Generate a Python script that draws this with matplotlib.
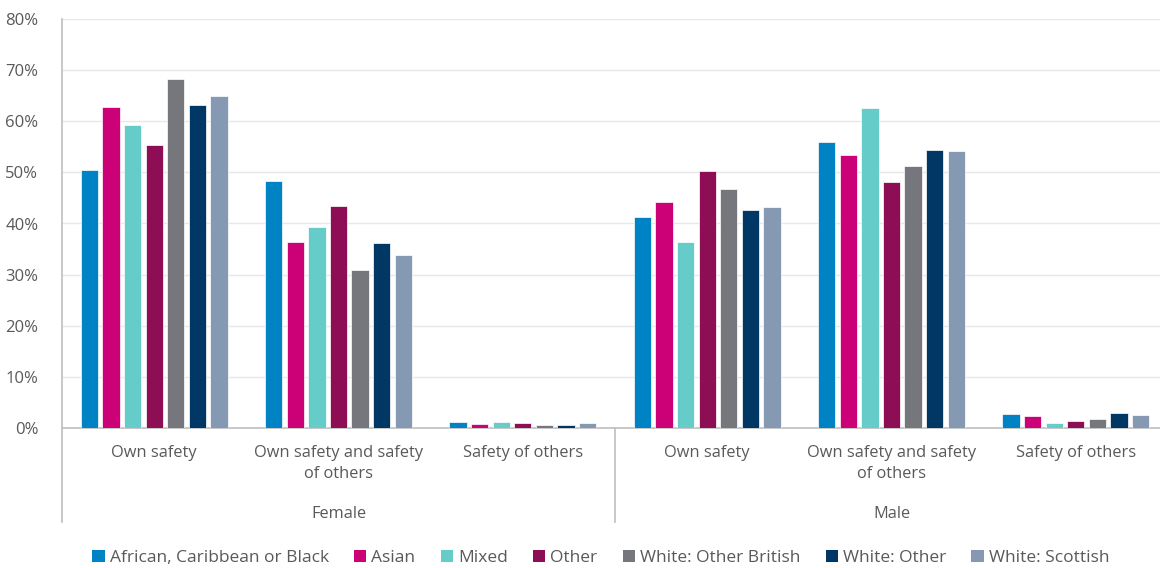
import numpy as np
import matplotlib.pyplot as plt
from matplotlib.transforms import blended_transform_factory
from matplotlib.patches import Patch

plt.rcParams['font.family'] = ['Open Sans', 'DejaVu Sans']

genders = ["Female", "Male"]
reasons = ["Own safety", "Own safety and safety\nof others", "Safety of others"]
series = ["African, Caribbean or Black", "Asian", "Mixed", "Other",
          "White: Other British", "White: Other", "White: Scottish"]
colors = ["#0083C4", "#CC0077", "#66CCCA", "#8E0E55", "#76777C", "#003764", "#8599B3"]

# values in %, order: Female (own, both, others), Male (own, both, others)
african = [50.5, 48.4, 1.1, 41.3, 56.0, 2.7]
asian = [62.8, 36.4, 0.8, 44.2, 53.4, 2.4]
mixed = [59.3, 39.4, 1.2, 36.4, 62.5, 0.9]
other = [55.4, 43.5, 0.9, 50.3, 48.2, 1.4]
white_other_british = [68.3, 31.0, 0.6, 46.8, 51.2, 1.8]
white_other = [63.2, 36.1, 0.6, 42.7, 54.4, 2.9]
white_scottish = [65.0, 33.9, 1.0, 43.3, 54.1, 2.5]
values = [african, asian, mixed, other, white_other_british, white_other, white_scottish]

text_col = "#595959"
axis_col = "#BFBFBF"

fig = plt.figure(figsize=(11.6, 5.68), dpi=100)
# plot area runs a little past the right edge of the image, as in the original
ax = fig.add_axes([62 / 1160, 140 / 568, 1106 / 1160, 409 / 568])

x = np.arange(6)
width = 0.094
step = 0.117
for i, (vals, col) in enumerate(zip(values, colors)):
    ax.bar(x + (i - 3) * step, vals, width, color=col, edgecolor="white", linewidth=0.5, zorder=3)

ax.set_xlim(-0.5, 5.5)
ax.set_ylim(0, 80)
ax.set_yticks(np.arange(0, 81, 10))
ax.set_yticklabels([f"{v}%" for v in range(0, 81, 10)], color=text_col, fontsize=12)
ax.tick_params(axis="y", length=0, pad=17)
ax.set_xticks([])
ax.grid(axis="y", color="#E8E8E8", linewidth=1, zorder=0)
for s in ["top", "right", "left"]:
    ax.spines[s].set_visible(False)
ax.spines["bottom"].set_color(axis_col)
ax.spines["bottom"].set_linewidth(1.2)

trans = blended_transform_factory(ax.transData, ax.transAxes)
# left axis line extended into the category area, and the gender separator
ax.plot([-0.5, -0.5], [1, -0.23], transform=trans, color=axis_col, lw=1.2, clip_on=False)
ax.plot([2.5, 2.5], [0, -0.23], transform=trans, color=axis_col, lw=1.2, clip_on=False)

for g, gender in enumerate(genders):
    for r, reason in enumerate(reasons):
        ax.text(g * 3 + r, -0.042, reason, transform=trans, ha="center", va="top",
                color=text_col, fontsize=11.8, linespacing=1.42)
    ax.text(g * 3 + 1, -0.21, gender, transform=trans, ha="center", va="center",
            color=text_col, fontsize=11.8)

handles = [Patch(facecolor=c) for c in colors]
fig.legend(handles, series, loc="center", bbox_to_anchor=(0.518, 1 - 558 / 568), ncol=7,
           frameon=False, fontsize=12.5, handlelength=0.7, handleheight=0.7,
           handletextpad=0.3, columnspacing=1.45, labelcolor=text_col)

fig.savefig("out.png", dpi=100)
